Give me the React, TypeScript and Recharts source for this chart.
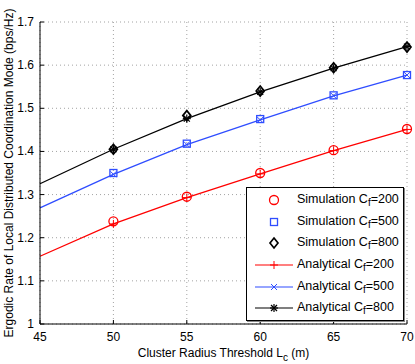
import React from "react";
import {
  LineChart,
  Line,
  XAxis,
  YAxis,
  CartesianGrid,
  Label,
} from "recharts";

// cluster radius threshold L_c (m)
const radius = [45, 50, 55, 60, 65, 70];
const xTicks = [45, 50, 55, 60, 65, 70];
const yTicks = [1, 1.1, 1.2, 1.3, 1.4, 1.5, 1.6, 1.7];

// simulation points (no value at 45)
const sim200 = [null, 1.238, 1.295, 1.35, 1.403, 1.452];
const sim500 = [null, 1.35, 1.418, 1.475, 1.53, 1.577];
const sim800 = [null, 1.405, 1.483, 1.54, 1.594, 1.642];

// analytical curves
const ana200 = [1.157, 1.232, 1.293, 1.348, 1.402, 1.451];
const ana500 = [1.269, 1.347, 1.416, 1.473, 1.529, 1.577];
const ana800 = [1.325, 1.405, 1.476, 1.538, 1.593, 1.643];

const RED = "#ff0000";
const BLUE = "#2f4dff";
const BLACK = "#000000";
const FONT = "'Liberation Sans', Arial, sans-serif";

const data = radius.map((r, i) => ({
  r,
  sim200: sim200[i],
  sim500: sim500[i],
  sim800: sim800[i],
  ana200: ana200[i],
  ana500: ana500[i],
  ana800: ana800[i],
}));

type Shape = "circle" | "square" | "diamond" | "plus" | "cross" | "star";

function marker(shape: Shape, cx: number, cy: number, color: string, key?: string) {
  const sw = 1.3;
  switch (shape) {
    case "circle":
      return <circle key={key} cx={cx} cy={cy} r={4.5} fill="none" stroke={color} strokeWidth={sw} />;
    case "square":
      return <rect key={key} x={cx - 3.5} y={cy - 3.5} width={7} height={7} fill="none" stroke={color} strokeWidth={sw} />;
    case "diamond":
      return (
        <polygon
          key={key}
          points={`${cx},${cy - 5} ${cx + 4},${cy} ${cx},${cy + 5} ${cx - 4},${cy}`}
          fill="none"
          stroke={color}
          strokeWidth={sw * 1.3}
        />
      );
    case "plus":
      return (
        <g key={key} stroke={color} strokeWidth={1}>
          <line x1={cx - 4} y1={cy} x2={cx + 4} y2={cy} />
          <line x1={cx} y1={cy - 4} x2={cx} y2={cy + 4} />
        </g>
      );
    case "cross":
      return (
        <g key={key} stroke={color} strokeWidth={1}>
          <line x1={cx - 3} y1={cy - 3} x2={cx + 3} y2={cy + 3} />
          <line x1={cx - 3} y1={cy + 3} x2={cx + 3} y2={cy - 3} />
        </g>
      );
    default:
      return (
        <g key={key} stroke={color} strokeWidth={1.2}>
          <line x1={cx - 4} y1={cy} x2={cx + 4} y2={cy} />
          <line x1={cx} y1={cy - 4} x2={cx} y2={cy + 4} />
          <line x1={cx - 3} y1={cy - 3} x2={cx + 3} y2={cy + 3} />
          <line x1={cx - 3} y1={cy + 3} x2={cx + 3} y2={cy - 3} />
        </g>
      );
  }
}

// analytical markers are drawn at every point except the first (45)
const dotFn = (shape: Shape, color: string, skipFirst: boolean) => (props: any) => {
  const { cx, cy, index, value } = props;
  if ((skipFirst && index === 0) || value == null || cx == null || cy == null)
    return <g key={`e-${index}`} />;
  return marker(shape, cx, cy, color, `m-${index}`);
};

const legendRows: { label: string; shape: Shape; color: string; line: boolean }[] = [
  { label: "Simulation C", shape: "circle", color: RED, line: false },
  { label: "Simulation C", shape: "square", color: BLUE, line: false },
  { label: "Simulation C", shape: "diamond", color: BLACK, line: false },
  { label: "Analytical C", shape: "plus", color: RED, line: true },
  { label: "Analytical C", shape: "cross", color: BLUE, line: true },
  { label: "Analytical C", shape: "star", color: BLACK, line: true },
];
const legendCf = ["200", "500", "800", "200", "500", "800"];

function LegendBox() {
  return (
    <div
      style={{
        position: "absolute",
        left: 246,
        top: 187,
        width: 156,
        border: "1px solid #000",
        background: "#fff",
        padding: "1px 0",
        fontFamily: FONT,
        fontSize: 12.5,
        color: "#000",
        boxShadow: "1px 1px 0 #888",
      }}
    >
      {legendRows.map((row, i) => (
        <div key={i} style={{ display: "flex", alignItems: "center", height: 21.7 }}>
          <svg width={48} height={16} style={{ flex: "none" }}>
            {row.line && <line x1={8} y1={8} x2={46} y2={8} stroke={row.color} strokeWidth={1.2} />}
            {marker(row.shape, 27, 8, row.color)}
          </svg>
          <span style={{ whiteSpace: "nowrap", marginLeft: 2 }}>
            {row.label}
            <sub style={{ fontSize: 10, verticalAlign: -3 }}>f</sub>={legendCf[i]}
          </span>
        </div>
      ))}
    </div>
  );
}

const TICK_MARGIN = 6;

function YTick(props: any) {
  const { x, y, payload } = props;
  const axisX = x + TICK_MARGIN;
  return (
    <g>
      <line x1={axisX} y1={y} x2={axisX + 4} y2={y} stroke="#000" />
      <text x={x} y={y} dy={4} textAnchor="end" fontSize={12} fontFamily={FONT} fill="#000">
        {String(payload.value)}
      </text>
    </g>
  );
}

function XTick(props: any) {
  const { x, y, payload } = props;
  const axisY = y - TICK_MARGIN;
  return (
    <g>
      <line x1={x} y1={axisY} x2={x} y2={axisY - 4} stroke="#000" />
      <text x={x} y={y} dy={11} textAnchor="middle" fontSize={12} fontFamily={FONT} fill="#000">
        {String(payload.value)}
      </text>
    </g>
  );
}

function TopTick(props: any) {
  const { x, y } = props;
  return <line x1={x} y1={y} x2={x} y2={y + 4} stroke="#000" />;
}

function RightTick(props: any) {
  const { x, y } = props;
  return <line x1={x} y1={y} x2={x - 4} y2={y} stroke="#000" />;
}

function XLabel(props: any) {
  const { viewBox } = props;
  const cx = viewBox.x + viewBox.width / 2;
  return (
    <text x={cx} y={357} textAnchor="middle" fontSize={12} fontFamily={FONT} fill="#000">
      Cluster Radius Threshold L
      <tspan fontSize={10} dy={4}>c</tspan>
      <tspan dy={-4}> (m)</tspan>
    </text>
  );
}

function YLabel(props: any) {
  const { viewBox } = props;
  const cy = viewBox.y + viewBox.height / 2;
  return (
    <text
      x={9}
      y={cy}
      transform={`rotate(-90 9 ${cy})`}
      textAnchor="middle"
      dominantBaseline="central"
      fontSize={12}
      fontFamily={FONT}
      fill="#000"
    >
      Ergodic Rate of Local Distributed Coordination Mode (bps/Hz)
    </text>
  );
}

export default function App() {
  return (
    <div style={{ position: "absolute", left: 0, top: 0, width: 415, height: 364, background: "#fff" }}>
      <LineChart width={415} height={364} data={data} margin={{ top: 22, right: 8, bottom: 0, left: 0 }}>
        <CartesianGrid stroke="#8c8c8c" strokeDasharray="1 3" strokeWidth={0.8} />
        <XAxis
          dataKey="r"
          type="number"
          domain={[45, 70]}
          ticks={xTicks}
          height={40}
          tickSize={0}
          tickMargin={TICK_MARGIN}
          tick={<XTick />}
          axisLine={{ stroke: "#000" }}
        >
          <Label content={<XLabel />} />
        </XAxis>
        <XAxis
          xAxisId="top"
          orientation="top"
          dataKey="r"
          type="number"
          domain={[45, 70]}
          ticks={xTicks}
          height={0}
          tickSize={0}
          tick={<TopTick />}
          axisLine={{ stroke: "#000" }}
        />
        <YAxis
          type="number"
          domain={[1, 1.7]}
          ticks={yTicks}
          width={40}
          tickSize={0}
          tickMargin={TICK_MARGIN}
          tick={<YTick />}
          axisLine={{ stroke: "#000" }}
        >
          <Label content={<YLabel />} />
        </YAxis>
        <YAxis
          yAxisId="right"
          orientation="right"
          type="number"
          domain={[1, 1.7]}
          ticks={yTicks}
          width={0}
          tickSize={0}
          tick={<RightTick />}
          axisLine={{ stroke: "#555", strokeWidth: 1.5 }}
        />
        <Line dataKey="ana200" stroke={RED} strokeWidth={1.3} type="linear" dot={dotFn("plus", RED, true)} activeDot={false} isAnimationActive={false} />
        <Line dataKey="ana500" stroke={BLUE} strokeWidth={1.3} type="linear" dot={dotFn("cross", BLUE, true)} activeDot={false} isAnimationActive={false} />
        <Line dataKey="ana800" stroke={BLACK} strokeWidth={1.3} type="linear" dot={dotFn("star", BLACK, true)} activeDot={false} isAnimationActive={false} />
        <Line dataKey="sim200" stroke="none" dot={dotFn("circle", RED, false)} activeDot={false} isAnimationActive={false} />
        <Line dataKey="sim500" stroke="none" dot={dotFn("square", BLUE, false)} activeDot={false} isAnimationActive={false} />
        <Line dataKey="sim800" stroke="none" dot={dotFn("diamond", BLACK, false)} activeDot={false} isAnimationActive={false} />
      </LineChart>
      <LegendBox />
    </div>
  );
}
